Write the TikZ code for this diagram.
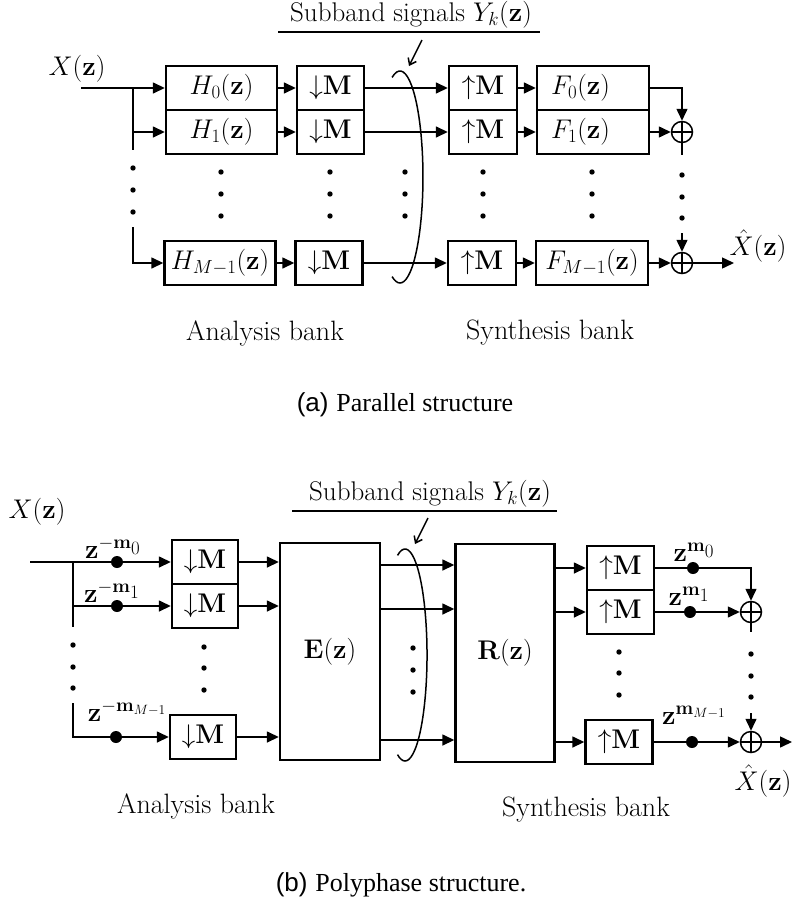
\RequirePackage{fix-cm}
\documentclass[tikz,border=0pt]{standalone}
\usepackage{fontspec}
\setmainfont{Latin Modern Roman}
\newfontfamily\capserif{Liberation Serif}
\newfontfamily\capsans{Liberation Sans}
\usetikzlibrary{arrows.meta}
\newcommand{\dnM}{\ensuremath{\mathord{\downarrow}\mathbf{M}}}
\newcommand{\upM}{\ensuremath{\mathord{\uparrow}\mathbf{M}}}
\tikzset{
  box/.style={draw, line width=2.4pt, inner sep=0pt, minimum height=44pt},
  sig/.style={line width=1.5pt},
  arr/.style={sig, -{Triangle[length=12pt,width=11pt]}},
  barb/.style={sig, -{Straight Barb[length=6pt,width=9pt]}},
  adder/.style={circle, draw, line width=1.5pt, inner sep=0pt, minimum size=21pt,
    path picture={\draw[line width=1.5pt] (path picture bounding box.north) -- (path picture bounding box.south)
      (path picture bounding box.west) -- (path picture bounding box.east);}},
  dly/.style={circle, fill, inner sep=0pt, minimum size=12pt},
  lbl/.style={inner sep=0pt},
  bank/.style={inner sep=0pt, font=\fontsize{28}{32}\selectfont},
  capt/.style={inner sep=0pt, font=\fontsize{26}{30}\selectfont},
}
\begin{document}
\begin{tikzpicture}[x=1pt,y=-1pt,font=\fontsize{27}{32}\selectfont]
\useasboundingbox (0,0) rectangle (792,908);

% ================= (a) Parallel structure =================
\node[lbl] (subA) at (411,15) {Subband signals $Y_k(\mathbf{z})$};
\coordinate (ulA1) at (278,32); \coordinate (ulA2) at (540,32);
\draw[sig] (ulA1) -- (ulA2);
\coordinate (saA1) at (422,40); \coordinate (saA2) at (409,66);
\draw[barb] (saA1) -- (saA2);
\draw[sig] (392.1,77.4) arc[start angle=110,end angle=-110,x radius=23pt,y radius=106pt];

\node[lbl] (xa) at (77,69) {$X(\mathbf{z})$};
\coordinate (ina) at (81,88);

\node[box, minimum width=111pt] (H0) at (221.5,88) {$H_0(\mathbf{z})$};
\node[box, minimum width=111pt] (H1) at (221.5,132) {$H_1(\mathbf{z})$};
\node[box, minimum width=111pt] (HM) at (220,263) {$H_{M-1}(\mathbf{z})$};

\node[box, minimum width=67pt] (D0) at (330.5,88) {\dnM};
\node[box, minimum width=67pt] (D1) at (330.5,132) {\dnM};
\node[box, minimum width=67pt] (DM) at (329,263) {\dnM};

\node[box, minimum width=68pt] (U0) at (483,88) {\upM};
\node[box, minimum width=68pt] (U1) at (483,132) {\upM};
\node[box, minimum width=68pt] (UM) at (482,263) {\upM};

\node[box, minimum width=112pt] (F0) at (593,88) {$F_0(\mathbf{z})$\hspace*{25pt}};
\node[box, minimum width=112pt] (F1) at (593,132) {$F_1(\mathbf{z})$\hspace*{25pt}};
\node[box, minimum width=112pt] (FM) at (592,263) {$F_{M-1}(\mathbf{z})$};

\node[adder] (A1) at (682,132) {};
\node[adder] (AM) at (682,263) {};

% input branching
\coordinate (ba0) at (133,88);
\coordinate (ba1) at (133,132);
\coordinate (baT) at (133,150);
\coordinate (baB) at (133,227);
\draw[arr] (ina) -- (H0.west);
\draw[sig] (ba0) -- (baT);
\draw[arr] (ba1) -- (H1.west);
\draw[arr] (baB) |- (HM.west);
\foreach \y in {168,190,212} \fill (133,\y) circle (2.7pt);

\draw[arr] (H0) -- (D0);
\draw[arr] (H1) -- (D1);
\draw[arr] (HM) -- (DM);
\draw[arr] (D0) -- (U0);
\draw[arr] (D1) -- (U1);
\draw[arr] (DM) -- (UM);
\draw[arr] (U0) -- (F0);
\draw[arr] (U1) -- (F1);
\draw[arr] (UM) -- (FM);

\draw[arr] (F0.east) -| (A1.north);
\draw[arr] (F1) -- (A1);
\coordinate (aT) at (682,155);
\coordinate (aB) at (682,233);
\draw[sig] (A1.south) -- (aT);
\draw[arr] (aB) -- (AM.north);
\draw[arr] (FM) -- (AM);
\coordinate (outa) at (734,263);
\draw[arr] (AM.east) -- (outa);
\node[lbl] (xha) at (758,246) {$\hat{X}(\mathbf{z})$};

\foreach \x in {221,330,405,483,592} \foreach \y in {172,194,216} \fill (\x,\y) circle (2.7pt);
\foreach \y in {175,197,218} \fill (682,\y) circle (2.7pt);

\node[bank] (anA) at (265,333) {Analysis bank};
\node[bank] (syA) at (550,333) {Synthesis bank};
\node[capt] (capA) at (405,405) {{\capsans (a)} {\capserif Parallel structure}};

% ================= (b) Polyphase structure =================
\node[lbl] (subB) at (430,494) {Subband signals $Y_k(\mathbf{z})$};
\coordinate (ulB1) at (292,511); \coordinate (ulB2) at (557,511);
\draw[sig] (ulB1) -- (ulB2);
\coordinate (saB1) at (428,518); \coordinate (saB2) at (415,544);
\draw[barb] (saB1) -- (saB2);
\draw[sig] (397.5,555.4) arc[start angle=110,end angle=-110,x radius=22pt,y radius=106pt];

\node[lbl] (xb) at (37,512) {$X(\mathbf{z})$};
\coordinate (inb) at (30,562);

\node[dly] (d0) at (117,562) {};
\node[dly] (d1) at (117,606) {};
\node[dly] (dM) at (116,737) {};
\node[lbl] (ld0) at (113,548) {$\mathbf{z}^{-\mathbf{m}_{\scriptstyle 0}}$};
\node[lbl] (ld1) at (112,592) {$\mathbf{z}^{-\mathbf{m}_{\scriptstyle 1}}$};
\node[lbl] (ldM) at (127,711) {$\mathbf{z}^{-\mathbf{m}_{M-1}}$};

\node[box, minimum width=66pt] (P0) at (205,562) {\dnM};
\node[box, minimum width=66pt] (P1) at (205,606) {\dnM};
\node[box, minimum width=66pt] (PM) at (203,737) {\dnM};

\node[box, minimum width=100pt, minimum height=217pt] (E) at (330,651.5) {$\mathbf{E}(\mathbf{z})$};
\node[box, minimum width=99pt, minimum height=218pt] (R) at (505,653) {$\mathbf{R}(\mathbf{z})$};

\node[box, minimum width=67pt] (Q0) at (620.5,568) {\upM};
\node[box, minimum width=67pt] (Q1) at (620.5,612) {\upM};
\node[box, minimum width=67pt] (QM) at (619,742) {\upM};

\node[dly] (o0) at (693,568) {};
\node[dly] (o1) at (690,612) {};
\node[dly] (oM) at (692,742) {};
\node[lbl] (lo0) at (694,552) {$\mathbf{z}^{\mathbf{m}_{\scriptstyle 0}}$};
\node[lbl] (lo1) at (689,596) {$\mathbf{z}^{\mathbf{m}_{\scriptstyle 1}}$};
\node[lbl] (loM) at (694,715) {$\mathbf{z}^{\mathbf{m}_{M-1}}$};

\node[adder] (B1) at (751,612) {};
\node[adder] (BM) at (751,742) {};

% input branching
\coordinate (bb0) at (73,562);
\coordinate (bb1) at (73,606);
\coordinate (bbT) at (73,627);
\coordinate (bbB) at (73,703);
\draw[sig] (inb) -- (d0);
\draw[sig] (bb0) -- (bbT);
\draw[sig] (bb1) -- (d1);
\draw[sig] (bbB) |- (dM);
\foreach \y in {645,667,688} \fill (73,\y) circle (2.7pt);
\draw[arr] (d0) -- (P0.west);
\draw[arr] (d1) -- (P1.west);
\draw[arr] (dM) -- (PM.west);

\draw[arr] (P0.east) -- (P0.east -| E.west);
\draw[arr] (P1.east) -- (P1.east -| E.west);
\draw[arr] (PM.east) -- (PM.east -| E.west);

\coordinate (r0) at (420,565);
\coordinate (r1) at (420,609);
\coordinate (rM) at (420,740);
\draw[arr] (E.east |- r0) -- (R.west |- r0);
\draw[arr] (E.east |- r1) -- (R.west |- r1);
\draw[arr] (E.east |- rM) -- (R.west |- rM);

\draw[arr] (R.east |- Q0) -- (Q0.west);
\draw[arr] (R.east |- Q1) -- (Q1.west);
\draw[arr] (R.east |- QM) -- (QM.west);

\draw[sig] (Q0.east) -- (o0);
\draw[sig] (Q1.east) -- (o1);
\draw[sig] (QM.east) -- (oM);
\draw[arr] (o0) -| (B1.north);
\draw[arr] (o1) -- (B1.west);
\draw[arr] (oM) -- (BM.west);
\coordinate (bT) at (751,632);
\coordinate (bB) at (751,713);
\draw[sig] (B1.south) -- (bT);
\draw[arr] (bB) -- (BM.north);
\coordinate (outb) at (792,742);
\draw[arr] (BM.east) -- (outb);
\node[lbl] (xhb) at (763,781) {$\hat{X}(\mathbf{z})$};

\foreach \y in {647,668,690} \fill (204,\y) circle (2.7pt);
\foreach \y in {648,670,692} \fill (413,\y) circle (2.7pt);
\foreach \y in {652,673,695} \fill (619,\y) circle (2.7pt);
\foreach \y in {654,676,697} \fill (751,\y) circle (2.7pt);

\node[bank] (anB) at (196,806) {Analysis bank};
\node[bank] (syB) at (586,810) {Synthesis bank};
\node[capt] (capB) at (401,885) {{\capsans (b)} {\capserif Polyphase structure.}};
\end{tikzpicture}
\end{document}
